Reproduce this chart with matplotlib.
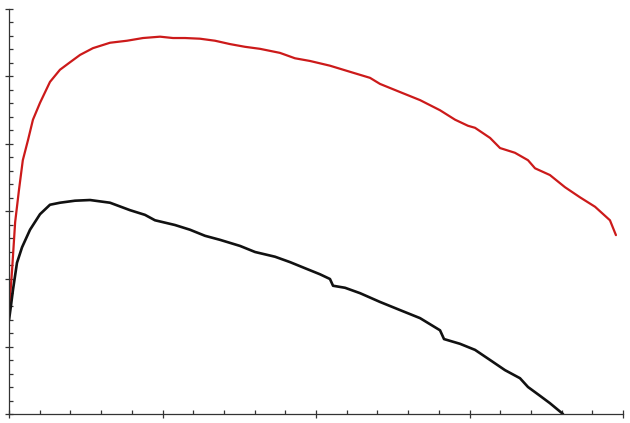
import matplotlib
matplotlib.use("Agg")
import matplotlib.pyplot as plt
from matplotlib.ticker import MultipleLocator, NullFormatter

red_x = [0.0, 0.02, 0.04, 0.065, 0.09, 0.124, 0.156, 0.202, 0.267, 0.332, 0.397, 0.463,
         0.547, 0.658, 0.769, 0.873, 0.984, 1.068, 1.147, 1.244, 1.342, 1.440, 1.537,
         1.635, 1.765, 1.863, 1.961, 2.091, 2.221, 2.352, 2.417, 2.547, 2.678, 2.808,
         2.906, 2.990, 3.036, 3.134, 3.199, 3.296, 3.381, 3.427, 3.524, 3.622, 3.720,
         3.818, 3.915, 3.954]
red_y = [1.51, 2.13, 2.84, 3.32, 3.76, 4.06, 4.36, 4.61, 4.92, 5.10, 5.21, 5.32,
         5.42, 5.50, 5.53, 5.57, 5.59, 5.57, 5.57, 5.56, 5.53, 5.48, 5.44,
         5.41, 5.35, 5.27, 5.23, 5.16, 5.07, 4.98, 4.89, 4.77, 4.65, 4.50,
         4.36, 4.27, 4.24, 4.09, 3.94, 3.87, 3.76, 3.64, 3.54, 3.36, 3.21,
         3.07, 2.87, 2.65]

black_x = [0.0, 0.013, 0.026, 0.052, 0.085, 0.137, 0.202, 0.267, 0.332, 0.430, 0.528,
           0.658, 0.788, 0.886, 0.951, 1.081, 1.179, 1.277, 1.375, 1.505, 1.603, 1.733,
           1.831, 1.928, 2.026, 2.091, 2.111, 2.189, 2.287, 2.417, 2.547, 2.678, 2.808,
           2.834, 2.938, 3.036, 3.134, 3.231, 3.329, 3.381, 3.459, 3.524, 3.609]
black_y = [1.39, 1.61, 1.84, 2.24, 2.47, 2.73, 2.96, 3.10, 3.13, 3.16, 3.17,
           3.13, 3.02, 2.95, 2.87, 2.80, 2.73, 2.64, 2.58, 2.49, 2.40, 2.33,
           2.25, 2.16, 2.07, 2.00, 1.90, 1.87, 1.79, 1.66, 1.54, 1.42, 1.24,
           1.11, 1.04, 0.95, 0.80, 0.65, 0.53, 0.40, 0.27, 0.16, 0.00]

fig = plt.figure(figsize=(6.3, 4.23), dpi=100)
ax = fig.add_axes([9/630, 9/423, 614/630, 405/423])
ax.plot(red_x, red_y, color="#cc1a1a", lw=1.6, solid_capstyle="round", solid_joinstyle="round")
ax.plot(black_x, black_y, color="#111111", lw=1.9, solid_capstyle="round", solid_joinstyle="round")

ax.set_xlim(0, 4)
ax.set_ylim(0, 6)
for s in ("top", "right"):
    ax.spines[s].set_visible(False)
for s in ("left", "bottom"):
    ax.spines[s].set_linewidth(0.9)
    ax.spines[s].set_color("#333333")
ax.xaxis.set_major_locator(MultipleLocator(1))
ax.xaxis.set_minor_locator(MultipleLocator(0.2))
ax.yaxis.set_major_locator(MultipleLocator(1))
ax.yaxis.set_minor_locator(MultipleLocator(0.2))
ax.xaxis.set_major_formatter(NullFormatter())
ax.yaxis.set_major_formatter(NullFormatter())
ax.tick_params(which="major", direction="inout", length=6, width=0.9, color="#333333")
ax.tick_params(which="minor", direction="in", length=3, width=0.9, color="#333333")
ax.set_facecolor("white")
fig.savefig("out.png", dpi=100, facecolor="white")
